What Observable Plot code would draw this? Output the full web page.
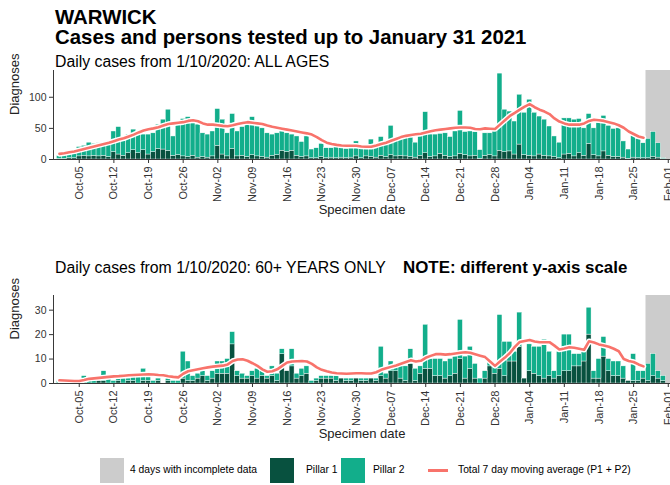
<!DOCTYPE html>
<html>
<head>
<meta charset="utf-8">
<script src="https://cdn.jsdelivr.net/npm/d3@7"></script>
<script src="https://cdn.jsdelivr.net/npm/@observablehq/plot@0.6"></script>
<style>
  body { margin: 0; background: #fff; font-family: "Liberation Sans", Arial, sans-serif; }
  #page { position: relative; width: 670px; height: 485px; overflow: hidden; background: #fff; }
  .txt { position: absolute; white-space: nowrap; color: #000; }
  .chart { position: absolute; left: 0; }
  .sw { position: absolute; }
  .leg { font-size: 10.3px; line-height: 12px; top: 464px; }
  .sub { font-size: 15.8px; line-height: 19px; }
</style>
</head>
<body>
<div id="page">
  <div class="txt" style="left:55px;top:6px;font-size:20.4px;line-height:22px;font-weight:bold">WARWICK</div>
  <div class="txt" style="left:55px;top:26px;font-size:20.4px;line-height:22px;font-weight:bold">Cases and persons tested up to January 31 2021</div>
  <div class="txt sub" style="left:55px;top:52px">Daily cases from 1/10/2020: ALL AGES</div>
  <div id="top" class="chart" style="top:66px"></div>
  <div class="txt sub" style="left:55px;top:258px">Daily cases from 1/10/2020: 60+ YEARS ONLY</div>
  <div class="txt" style="left:403px;top:258px;font-size:16.9px;line-height:19px;font-weight:bold">NOTE: different y-axis scale</div>
  <div id="bottom" class="chart" style="top:291px"></div>

  <div class="sw" style="left:100px;top:458px;width:24px;height:25px;background:#cccccc"></div>
  <div class="txt leg" style="left:130px">4 days with incomplete data</div>
  <div class="sw" style="left:270px;top:458px;width:24px;height:25px;background:#08513f"></div>
  <div class="txt leg" style="left:306px">Pillar 1</div>
  <div class="sw" style="left:341px;top:458px;width:24px;height:25px;background:#12ae8b"></div>
  <div class="txt leg" style="left:373px">Pillar 2</div>
  <div class="sw" style="left:428px;top:469px;width:20px;height:3px;background:#f8736b"></div>
  <div class="txt leg" style="left:458px">Total 7 day moving average (P1 + P2)</div>
</div>
<script>
// Daily cases by specimen date, 1 Oct 2020 – 31 Jan 2021 (123 days)
const firstDay = new Date(Date.UTC(2020, 9, 1));
const lastDayExcl = new Date(Date.UTC(2021, 1, 1));

// All ages
const allPillar1 = [1,1,2,2,5,6,5,6,5,6, 4,12,8,6,10,15,10,15,8,12, 17,16,14,6,7,5,4,6,3,4,
  3,5,22,8,5,17,5,6,4,7, 5,4,3,6,7,14,12,14,6,4, 5,2,2,4,2,3,2,3,2,3,
  5,2,5,4,3,6,4,7,5,6, 5,4,3,6,10,4,5,9,6,4, 5,9,7,5,6,1,6,7,5,14,
  12,13,8,24,7,6,5,8,6,5, 4,2,8,9,5,10,6,25,7,5, 13,6,4,4,3,1,3,2,2,2, 4,3,1];
const allPillar2 = [5,6,6,7,15,16,22,19,21,18, 21,33,44,28,30,33,33,25,32,30, 39,48,66,31,49,60,64,52,53,38,
  37,40,59,56,37,56,40,46,51,61, 48,46,39,34,35,31,30,26,31,24, 32,14,16,21,16,15,18,15,15,15,
  24,20,17,28,22,30,21,47,27,27, 30,32,24,31,66,36,35,32,36,32, 40,69,37,40,38,14,36,35,43,124,
  68,64,53,80,68,90,70,61,58,48, 33,25,58,57,59,55,44,48,43,54, 57,48,45,46,26,15,35,31,24,31, 40,23,1];
const allAvg7 = [9,10,11.5,13,15,17,19,21,23,25, 27,29.5,32,34,37,40,43.5,46.5,48.5,50, 52,54.5,57,58,59,60,62,63,61.5,58,
  56,56,55,54,53.5,55,57,58.5,60,59, 58,57,54.5,52.5,51,49.5,48,46.5,45,43.5, 42,40,36,31,27,25,23.5,22.5,22,22,
  22,21,20.5,20.5,22.5,25,27,30,33,36, 38,39.5,40.5,41.5,43.5,45.5,47,48,49,50, 51,51.5,51.5,51,49,48.5,50,49.5,49,56,
  63,70,75,80,85,89,84,80,77,73, 66,61,58,56,56,56,58,62,64,63, 62,60,58,55,51,45,41,37,35];

// Aged 60 and over
const oldPillar1 = [0,0,0,1,0,0,0,0,1,1, 0,0,1,0,1,1,0,1,1,0, 1,0,1,0,0,2,1,1,2,3,
  1,2,4,4,4,16,3,2,2,3, 2,3,2,3,1,12,5,7,2,3, 4,0,1,2,2,2,1,2,1,1,
  2,1,1,2,1,3,2,5,5,2, 1,8,1,4,6,6,3,3,2,3, 4,10,2,6,2,0,2,7,4,6,
  3,9,9,15,2,5,4,3,2,3, 2,3,5,5,7,7,9,20,2,2, 11,5,3,3,2,1,1,1,2,1, 3,2,1];
const oldPillar2 = [1,0,1,0,0,3,1,1,0,4, 2,1,1,2,1,2,3,5,2,1, 1,0,1,1,1,11,8,2,2,2,
  2,3,5,5,6,5,2,2,1,2, 4,2,1,4,3,2,0,7,2,3, 3,1,1,1,1,1,2,0,1,1,
  0,1,1,0,1,12,2,4,2,5, 6,6,5,3,18,4,7,7,7,7, 7,16,9,9,6,2,3,2,4,22,
  14,8,4,14,0,11,11,12,16,10, 3,10,15,15,5,5,4,11,3,8, 8,5,6,6,5,0,11,4,3,7, 9,3,2];
const oldAvg7 = [1.3,1.2,1.1,1,1,1.4,1.9,2.1,2.3,2.5, 2.7,2.9,3,3.2,3.4,3.5,3.6,3.7,3.8,3.7, 3.5,3.4,3,2.7,2.5,4,5,5.4,5.8,6.2,
  6.6,6.9,7.1,7.3,7.8,9.2,9.8,9.9,9.3,8.3, 7.2,5.8,4.8,5,5.8,7.2,8.6,9,9.1,9.2, 9,8,6.6,5.6,5,4.5,4.2,4.1,4,4.1,
  4.2,4.2,4.1,4.1,4.6,5.6,6.2,6.8,7.4,8.1, 8.8,9.5,9,9.3,10.5,11.3,12,12,11.8,12, 12.3,12.6,12.8,12.6,12,11.4,10.8,9,7.2,9,
  10.6,12.5,15,17,17.4,17.8,17.2,16.9,16.9,16.9, 15.5,13.9,14.3,14.8,14.6,14.2,13.8,17.3,16.8,16, 15.5,15,14.2,13.2,10,9.2,8.8,7.8,7];

const weekTicks = ["2020-10-05","2020-10-12","2020-10-19","2020-10-26","2020-11-02","2020-11-09","2020-11-16",
  "2020-11-23","2020-11-30","2020-12-07","2020-12-14","2020-12-21","2020-12-28","2021-01-04","2021-01-11",
  "2021-01-18","2021-01-25","2021-02-01"];
const incompleteFrom = "2021-01-28";

const colPillar1 = "#08513f";
const colPillar2 = "#12ae8b";
const colAvg = "#f8736b";
const colIncomplete = "#cccccc";

const dates = d3.utcDay.range(firstDay, lastDayExcl);
const halfDay = 432e5;
const xDomain = [new Date(Date.UTC(2020, 8, 29, 19, 12)), new Date(Date.UTC(2021, 1, 1, 10, 48))];
const tickDates = weekTicks.map(s => new Date(s + "T00:00:00Z"));
const greyStart = new Date(+new Date(incompleteFrom + "T00:00:00Z") - halfDay);
const fmt = d3.utcFormat("%b-%d");

function panel(p1, p2, avg, yMax, yTicks, marginBottom) {
  const rows = dates.map((d, i) => ({
    x1: new Date(+d - halfDay), x2: new Date(+d + halfDay), p1: p1[i], total: p1[i] + p2[i]
  }));
  const avgRows = avg.map((v, i) => ({d: dates[i], v}));
  return Plot.plot({
    width: 670, height: 160,
    marginTop: 4, marginBottom, marginLeft: 53, marginRight: 0,
    style: {fontFamily: "Liberation Sans, Arial, sans-serif", fontSize: "10px", color: "#333", background: "transparent", overflow: "visible"},
    x: {type: "utc", domain: xDomain},
    y: {domain: [0, yMax]},
    marks: [
      Plot.rect([0], {x1: () => greyStart, x2: () => xDomain[1], y1: () => 0, y2: () => yMax, fill: colIncomplete}),
      Plot.rectY(rows, {x1: "x1", x2: "x2", y1: () => 0, y2: "p1", fill: colPillar1, stroke: "white", strokeWidth: 0.4}),
      Plot.rectY(rows, {x1: "x1", x2: "x2", y1: "p1", y2: "total", fill: colPillar2, stroke: "white", strokeWidth: 0.4}),
      Plot.line(avgRows, {x: "d", y: "v", stroke: "white", strokeWidth: 5.5, strokeLinejoin: "round"}),
      Plot.line(avgRows, {x: "d", y: "v", stroke: colAvg, strokeWidth: 2.6, strokeLinejoin: "round"}),
      Plot.ruleY([0], {stroke: "#222", strokeWidth: 0.9}),
      Plot.ruleX([xDomain[0]], {stroke: "#222", strokeWidth: 0.9}),
      Plot.axisX({ticks: tickDates, tickFormat: fmt, tickRotate: -90, tickSize: 4, tickPadding: 3, fontSize: 11, label: null}),
      Plot.axisY({ticks: yTicks, tickSize: 4, tickPadding: 3, fontSize: 10.5, label: null}),
      Plot.text(["Specimen date"], {frameAnchor: "bottom", dy: 54, fontSize: 13, fill: "#222"}),
      Plot.text(["Diagnoses"], {frameAnchor: "left", dx: -39, rotate: -90, fontSize: 13, fill: "#222"})
    ]
  });
}

document.getElementById("top").append(panel(allPillar1, allPillar2, allAvg7, 143, [0, 50, 100], 67));
document.getElementById("bottom").append(panel(oldPillar1, oldPillar2, oldAvg7, 36, [0, 10, 20, 30], 68));
</script>
</body>
</html>
